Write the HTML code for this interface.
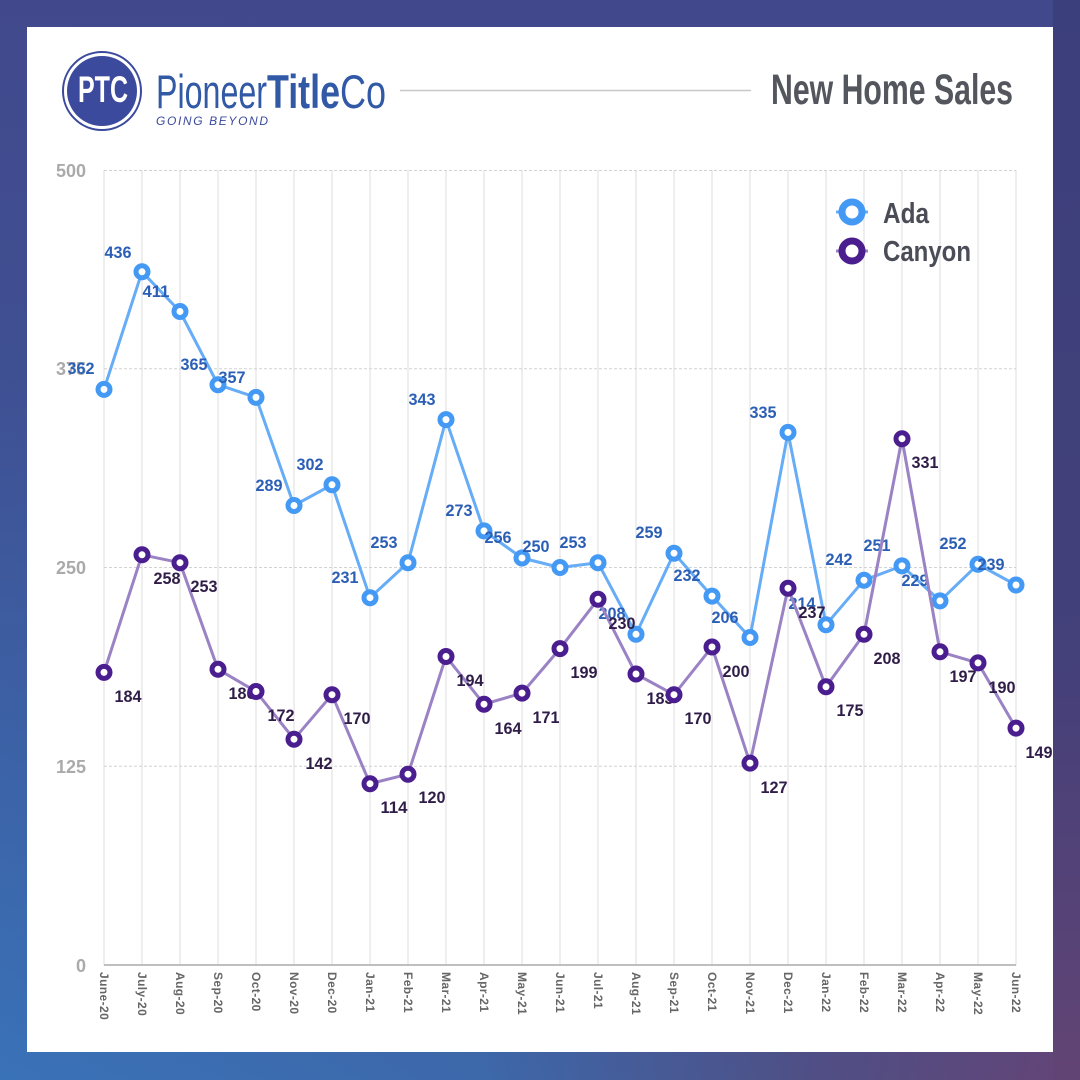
<!DOCTYPE html>
<html>
<head>
<meta charset="utf-8">
<style>
  html,body{margin:0;padding:0;}
  body{width:1080px;height:1080px;overflow:hidden;
    background:
      linear-gradient(to bottom, rgba(65,73,140,1) 0%, rgba(64,74,140,0.85) 35%, rgba(64,74,140,0) 100%),
      linear-gradient(to right, #3a72b8 0%, #3d68aa 45%, #4f4f85 75%, #644476 100%);
  }
  svg{display:block;}
  .dl{font-family:"Liberation Sans",sans-serif;font-weight:bold;font-size:17px;text-anchor:middle;}
  .ada{fill:#2b5fb5;}
  .can{fill:#2f1d48;}
  .yl{font-family:"Liberation Sans",sans-serif;font-weight:bold;font-size:18px;fill:#aaaaaa;text-anchor:end;}
  .xl{font-family:"Liberation Sans",sans-serif;font-weight:bold;font-size:12px;fill:#666;letter-spacing:0.4px;}
</style>
</head>
<body>
<svg width="1080" height="1080" viewBox="0 0 1080 1080" xmlns="http://www.w3.org/2000/svg">
  <!-- right-side darker overlay -->
  <defs>
    <linearGradient id="rt" x1="0" y1="0" x2="0" y2="1">
      <stop offset="0" stop-color="#3b3f7c"/>
      <stop offset="0.6" stop-color="#43407a"/>
      <stop offset="1" stop-color="#624474"/>
    </linearGradient>
  </defs>
  <rect x="1053" y="0" width="27" height="1080" fill="url(#rt)"/>
  <!-- card -->
  <rect x="27" y="27" width="1026" height="1025" fill="#ffffff"/>

  <!-- Logo -->
  <circle cx="102" cy="91" r="39" fill="none" stroke="#3b4a9c" stroke-width="2"/>
  <circle cx="102" cy="91" r="35" fill="#3b4a9c"/>
  <text x="78" y="102" font-family="Liberation Sans, sans-serif" font-size="37" font-weight="bold" fill="#ffffff" textLength="50" lengthAdjust="spacingAndGlyphs">PTC</text>
  <text x="156" y="108" font-family="Liberation Sans, sans-serif" font-size="47" fill="#3159a6" textLength="111" lengthAdjust="spacingAndGlyphs">Pioneer</text>
  <text x="267" y="108" font-family="Liberation Sans, sans-serif" font-size="47" font-weight="bold" fill="#3159a6" textLength="73" lengthAdjust="spacingAndGlyphs">Title</text>
  <text x="340" y="108" font-family="Liberation Sans, sans-serif" font-size="47" fill="#3159a6" textLength="46" lengthAdjust="spacingAndGlyphs">Co</text>
  <text x="156" y="125" font-family="Liberation Sans, sans-serif" font-size="12" font-style="italic" fill="#3b4a9c" textLength="112" lengthAdjust="spacing">GOING BEYOND</text>

  <!-- Header line & title -->
  <line x1="400" y1="90.5" x2="751" y2="90.5" stroke="#c8c8c8" stroke-width="1.5"/>
  <text x="771" y="104" font-family="Liberation Sans, sans-serif" font-size="43" font-weight="bold" fill="#54565e" textLength="242" lengthAdjust="spacingAndGlyphs">New Home Sales</text>

  <!-- vertical gridlines -->
  <g stroke="#dcdcdc" stroke-width="1">
    <line x1="104" y1="170" x2="104" y2="965"/>
    <line x1="142" y1="170" x2="142" y2="965"/>
    <line x1="180" y1="170" x2="180" y2="965"/>
    <line x1="218" y1="170" x2="218" y2="965"/>
    <line x1="256" y1="170" x2="256" y2="965"/>
    <line x1="294" y1="170" x2="294" y2="965"/>
    <line x1="332" y1="170" x2="332" y2="965"/>
    <line x1="370" y1="170" x2="370" y2="965"/>
    <line x1="408" y1="170" x2="408" y2="965"/>
    <line x1="446" y1="170" x2="446" y2="965"/>
    <line x1="484" y1="170" x2="484" y2="965"/>
    <line x1="522" y1="170" x2="522" y2="965"/>
    <line x1="560" y1="170" x2="560" y2="965"/>
    <line x1="598" y1="170" x2="598" y2="965"/>
    <line x1="636" y1="170" x2="636" y2="965"/>
    <line x1="674" y1="170" x2="674" y2="965"/>
    <line x1="712" y1="170" x2="712" y2="965"/>
    <line x1="750" y1="170" x2="750" y2="965"/>
    <line x1="788" y1="170" x2="788" y2="965"/>
    <line x1="826" y1="170" x2="826" y2="965"/>
    <line x1="864" y1="170" x2="864" y2="965"/>
    <line x1="902" y1="170" x2="902" y2="965"/>
    <line x1="940" y1="170" x2="940" y2="965"/>
    <line x1="978" y1="170" x2="978" y2="965"/>
    <line x1="1016" y1="170" x2="1016" y2="965"/>
  </g>
  <!-- horizontal dashed gridlines -->
  <g stroke="#d2d2d2" stroke-width="1" stroke-dasharray="3,2">
    <line x1="104" y1="170.5" x2="1016" y2="170.5"/>
    <line x1="104" y1="368.75" x2="1016" y2="368.75"/>
    <line x1="104" y1="567.5" x2="1016" y2="567.5"/>
    <line x1="104" y1="766.25" x2="1016" y2="766.25"/>
  </g>
  <line x1="104" y1="965" x2="1016" y2="965" stroke="#aaaaaa" stroke-width="1.5"/>

  <!-- y labels -->
  <text class="yl" x="86" y="177">500</text>
  <text class="yl" x="86" y="375">375</text>
  <text class="yl" x="86" y="574">250</text>
  <text class="yl" x="86" y="773">125</text>
  <text class="yl" x="86" y="972">0</text>

  <!-- x labels -->
  <g class="xl">
    <text transform="translate(104,972) rotate(90)" dy="4">June-20</text>
    <text transform="translate(142,972) rotate(90)" dy="4">July-20</text>
    <text transform="translate(180,972) rotate(90)" dy="4">Aug-20</text>
    <text transform="translate(218,972) rotate(90)" dy="4">Sep-20</text>
    <text transform="translate(256,972) rotate(90)" dy="4">Oct-20</text>
    <text transform="translate(294,972) rotate(90)" dy="4">Nov-20</text>
    <text transform="translate(332,972) rotate(90)" dy="4">Dec-20</text>
    <text transform="translate(370,972) rotate(90)" dy="4">Jan-21</text>
    <text transform="translate(408,972) rotate(90)" dy="4">Feb-21</text>
    <text transform="translate(446,972) rotate(90)" dy="4">Mar-21</text>
    <text transform="translate(484,972) rotate(90)" dy="4">Apr-21</text>
    <text transform="translate(522,972) rotate(90)" dy="4">May-21</text>
    <text transform="translate(560,972) rotate(90)" dy="4">Jun-21</text>
    <text transform="translate(598,972) rotate(90)" dy="4">Jul-21</text>
    <text transform="translate(636,972) rotate(90)" dy="4">Aug-21</text>
    <text transform="translate(674,972) rotate(90)" dy="4">Sep-21</text>
    <text transform="translate(712,972) rotate(90)" dy="4">Oct-21</text>
    <text transform="translate(750,972) rotate(90)" dy="4">Nov-21</text>
    <text transform="translate(788,972) rotate(90)" dy="4">Dec-21</text>
    <text transform="translate(826,972) rotate(90)" dy="4">Jan-22</text>
    <text transform="translate(864,972) rotate(90)" dy="4">Feb-22</text>
    <text transform="translate(902,972) rotate(90)" dy="4">Mar-22</text>
    <text transform="translate(940,972) rotate(90)" dy="4">Apr-22</text>
    <text transform="translate(978,972) rotate(90)" dy="4">May-22</text>
    <text transform="translate(1016,972) rotate(90)" dy="4">Jun-22</text>
  </g>

  <!-- Ada series -->
  <polyline fill="none" stroke="#66acf6" stroke-width="3" stroke-linejoin="round"
    points="104,389.4 142,271.8 180,311.5 218,384.7 256,397.4 294,505.5 332,484.8 370,597.7 408,562.7 446,419.6 484,530.9 522,558 560,567.5 598,562.7 636,634.3 674,553.2 712,596.1 750,637.5 788,432.4 826,624.7 864,580.2 902,565.9 940,600.9 978,564.3 1016,585"/>
  <g fill="#ffffff" stroke="#4499f5" stroke-width="5">
    <circle cx="104" cy="389.4" r="6"/><circle cx="142" cy="271.8" r="6"/><circle cx="180" cy="311.5" r="6"/>
    <circle cx="218" cy="384.7" r="6"/><circle cx="256" cy="397.4" r="6"/><circle cx="294" cy="505.5" r="6"/>
    <circle cx="332" cy="484.8" r="6"/><circle cx="370" cy="597.7" r="6"/><circle cx="408" cy="562.7" r="6"/>
    <circle cx="446" cy="419.6" r="6"/><circle cx="484" cy="530.9" r="6"/><circle cx="522" cy="558" r="6"/>
    <circle cx="560" cy="567.5" r="6"/><circle cx="598" cy="562.7" r="6"/><circle cx="636" cy="634.3" r="6"/>
    <circle cx="674" cy="553.2" r="6"/><circle cx="712" cy="596.1" r="6"/><circle cx="750" cy="637.5" r="6"/>
    <circle cx="788" cy="432.4" r="6"/><circle cx="826" cy="624.7" r="6"/><circle cx="864" cy="580.2" r="6"/>
    <circle cx="902" cy="565.9" r="6"/><circle cx="940" cy="600.9" r="6"/><circle cx="978" cy="564.3" r="6"/>
    <circle cx="1016" cy="585" r="6"/>
  </g>
  <g class="dl ada">
    <text x="81" y="374" textLength="27" lengthAdjust="spacingAndGlyphs">362</text>
    <text x="118" y="258" textLength="27" lengthAdjust="spacingAndGlyphs">436</text>
    <text x="156" y="297" textLength="27" lengthAdjust="spacingAndGlyphs">411</text>
    <text x="194" y="370" textLength="27" lengthAdjust="spacingAndGlyphs">365</text>
    <text x="232" y="383" textLength="27" lengthAdjust="spacingAndGlyphs">357</text>
    <text x="269" y="491" textLength="27" lengthAdjust="spacingAndGlyphs">289</text>
    <text x="310" y="470" textLength="27" lengthAdjust="spacingAndGlyphs">302</text>
    <text x="345" y="583" textLength="27" lengthAdjust="spacingAndGlyphs">231</text>
    <text x="384" y="548" textLength="27" lengthAdjust="spacingAndGlyphs">253</text>
    <text x="422" y="405" textLength="27" lengthAdjust="spacingAndGlyphs">343</text>
    <text x="459" y="516" textLength="27" lengthAdjust="spacingAndGlyphs">273</text>
    <text x="498" y="543" textLength="27" lengthAdjust="spacingAndGlyphs">256</text>
    <text x="536" y="552" textLength="27" lengthAdjust="spacingAndGlyphs">250</text>
    <text x="573" y="548" textLength="27" lengthAdjust="spacingAndGlyphs">253</text>
    <text x="649" y="538" textLength="27" lengthAdjust="spacingAndGlyphs">259</text>
    <text x="687" y="581" textLength="27" lengthAdjust="spacingAndGlyphs">232</text>
    <text x="725" y="623" textLength="27" lengthAdjust="spacingAndGlyphs">206</text>
    <text x="763" y="418" textLength="27" lengthAdjust="spacingAndGlyphs">335</text>
    <text x="802" y="609" textLength="27" lengthAdjust="spacingAndGlyphs">214</text>
    <text x="839" y="565" textLength="27" lengthAdjust="spacingAndGlyphs">242</text>
    <text x="877" y="551" textLength="27" lengthAdjust="spacingAndGlyphs">251</text>
    <text x="915" y="586" textLength="27" lengthAdjust="spacingAndGlyphs">229</text>
    <text x="953" y="549" textLength="27" lengthAdjust="spacingAndGlyphs">252</text>
    <text x="991" y="570" textLength="27" lengthAdjust="spacingAndGlyphs">239</text>
    <text x="612" y="619" textLength="27" lengthAdjust="spacingAndGlyphs">208</text>
  </g>

  <!-- Canyon series -->
  <polyline fill="none" stroke="#9a82c5" stroke-width="3" stroke-linejoin="round"
    points="104,672.4 142,554.8 180,562.7 218,669.3 256,691.5 294,739.2 332,694.7 370,783.7 408,774.2 446,656.5 484,704.2 522,693.1 560,648.6 598,599.3 636,674 674,694.7 712,647 750,763.1 788,588.2 826,686.8 864,634.3 902,438.7 940,651.8 978,662.9 1016,728.1"/>
  <g class="dl can">
    <text x="128" y="702" textLength="27" lengthAdjust="spacingAndGlyphs">184</text>
    <text x="167" y="584" textLength="27" lengthAdjust="spacingAndGlyphs">258</text>
    <text x="204" y="592" textLength="27" lengthAdjust="spacingAndGlyphs">253</text>
    <text x="242" y="699" textLength="27" lengthAdjust="spacingAndGlyphs">186</text>
    <text x="281" y="721" textLength="27" lengthAdjust="spacingAndGlyphs">172</text>
    <text x="319" y="769" textLength="27" lengthAdjust="spacingAndGlyphs">142</text>
    <text x="357" y="724" textLength="27" lengthAdjust="spacingAndGlyphs">170</text>
    <text x="394" y="813" textLength="27" lengthAdjust="spacingAndGlyphs">114</text>
    <text x="432" y="803" textLength="27" lengthAdjust="spacingAndGlyphs">120</text>
    <text x="470" y="686" textLength="27" lengthAdjust="spacingAndGlyphs">194</text>
    <text x="508" y="734" textLength="27" lengthAdjust="spacingAndGlyphs">164</text>
    <text x="546" y="723" textLength="27" lengthAdjust="spacingAndGlyphs">171</text>
    <text x="584" y="678" textLength="27" lengthAdjust="spacingAndGlyphs">199</text>
    <text x="622" y="629" textLength="27" lengthAdjust="spacingAndGlyphs">230</text>
    <text x="660" y="704" textLength="27" lengthAdjust="spacingAndGlyphs">183</text>
    <text x="698" y="724" textLength="27" lengthAdjust="spacingAndGlyphs">170</text>
    <text x="736" y="677" textLength="27" lengthAdjust="spacingAndGlyphs">200</text>
    <text x="774" y="793" textLength="27" lengthAdjust="spacingAndGlyphs">127</text>
    <text x="812" y="618" textLength="27" lengthAdjust="spacingAndGlyphs">237</text>
    <text x="850" y="716" textLength="27" lengthAdjust="spacingAndGlyphs">175</text>
    <text x="887" y="664" textLength="27" lengthAdjust="spacingAndGlyphs">208</text>
    <text x="925" y="468" textLength="27" lengthAdjust="spacingAndGlyphs">331</text>
    <text x="963" y="682" textLength="27" lengthAdjust="spacingAndGlyphs">197</text>
    <text x="1002" y="693" textLength="27" lengthAdjust="spacingAndGlyphs">190</text>
    <text x="1039" y="758" textLength="27" lengthAdjust="spacingAndGlyphs">149</text>
  </g>
  <g fill="#ffffff" stroke="#4b1e8f" stroke-width="5">
    <circle cx="104" cy="672.4" r="6"/><circle cx="142" cy="554.8" r="6"/><circle cx="180" cy="562.7" r="6"/>
    <circle cx="218" cy="669.3" r="6"/><circle cx="256" cy="691.5" r="6"/><circle cx="294" cy="739.2" r="6"/>
    <circle cx="332" cy="694.7" r="6"/><circle cx="370" cy="783.7" r="6"/><circle cx="408" cy="774.2" r="6"/>
    <circle cx="446" cy="656.5" r="6"/><circle cx="484" cy="704.2" r="6"/><circle cx="522" cy="693.1" r="6"/>
    <circle cx="560" cy="648.6" r="6"/><circle cx="598" cy="599.3" r="6"/><circle cx="636" cy="674" r="6"/>
    <circle cx="674" cy="694.7" r="6"/><circle cx="712" cy="647" r="6"/><circle cx="750" cy="763.1" r="6"/>
    <circle cx="788" cy="588.2" r="6"/><circle cx="826" cy="686.8" r="6"/><circle cx="864" cy="634.3" r="6"/>
    <circle cx="902" cy="438.7" r="6"/><circle cx="940" cy="651.8" r="6"/><circle cx="978" cy="662.9" r="6"/>
    <circle cx="1016" cy="728.1" r="6"/>
  </g>

  <!-- Legend -->
  <line x1="836" y1="212" x2="868" y2="212" stroke="#66acf6" stroke-width="3"/>
  <circle cx="852" cy="212" r="10" fill="#ffffff" stroke="#4499f5" stroke-width="7"/>
  <text x="883" y="223" font-family="Liberation Sans, sans-serif" font-size="29" font-weight="bold" fill="#4a4d57" textLength="46" lengthAdjust="spacingAndGlyphs">Ada</text>
  <line x1="836" y1="251" x2="868" y2="251" stroke="#9a82c5" stroke-width="3"/>
  <circle cx="852" cy="251" r="10" fill="#ffffff" stroke="#4b1e8f" stroke-width="7"/>
  <text x="883" y="261" font-family="Liberation Sans, sans-serif" font-size="29" font-weight="bold" fill="#4a4d57" textLength="88" lengthAdjust="spacingAndGlyphs">Canyon</text>
</svg>
</body>
</html>
